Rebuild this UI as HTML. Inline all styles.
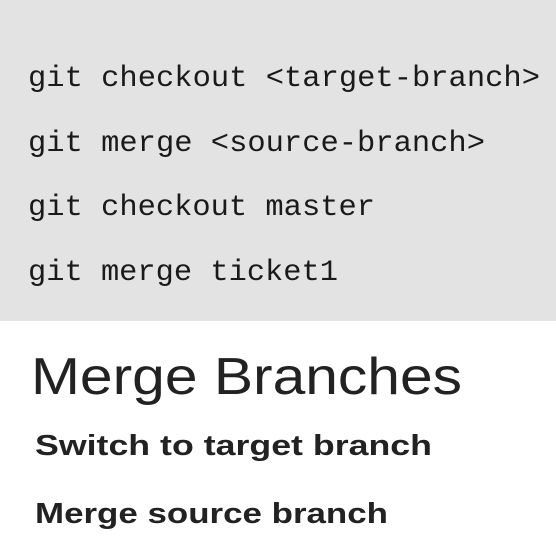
<!DOCTYPE html>
<html><head><style>
html,body{margin:0;padding:0;background:#fff;}
svg{display:block}
</style></head><body>
<svg width="556" height="556" xmlns="http://www.w3.org/2000/svg">
<rect x="0" y="0" width="556" height="321" fill="#e3e3e3"/>
<g font-family="Liberation Mono, monospace" font-size="30" fill="#1a1a1a">
<text x="28" y="86" textLength="512" lengthAdjust="spacingAndGlyphs">git checkout &lt;target-branch&gt;</text>
<text x="28" y="151" textLength="457" lengthAdjust="spacingAndGlyphs">git merge &lt;source-branch&gt;</text>
<text x="28" y="215" textLength="347" lengthAdjust="spacingAndGlyphs">git checkout master</text>
<text x="28" y="280" textLength="310" lengthAdjust="spacingAndGlyphs">git merge ticket1</text>
</g>
<text x="31" y="394" font-family="Liberation Sans, sans-serif" font-size="52" fill="#222" textLength="431" lengthAdjust="spacingAndGlyphs">Merge Branches</text>
<g font-family="Liberation Sans, sans-serif" font-size="29" font-weight="bold" fill="#222">
<text x="35" y="455" textLength="397" lengthAdjust="spacingAndGlyphs">Switch to target branch</text>
<text x="35" y="523" textLength="353" lengthAdjust="spacingAndGlyphs">Merge source branch</text>
</g>
</svg>
</body></html>
